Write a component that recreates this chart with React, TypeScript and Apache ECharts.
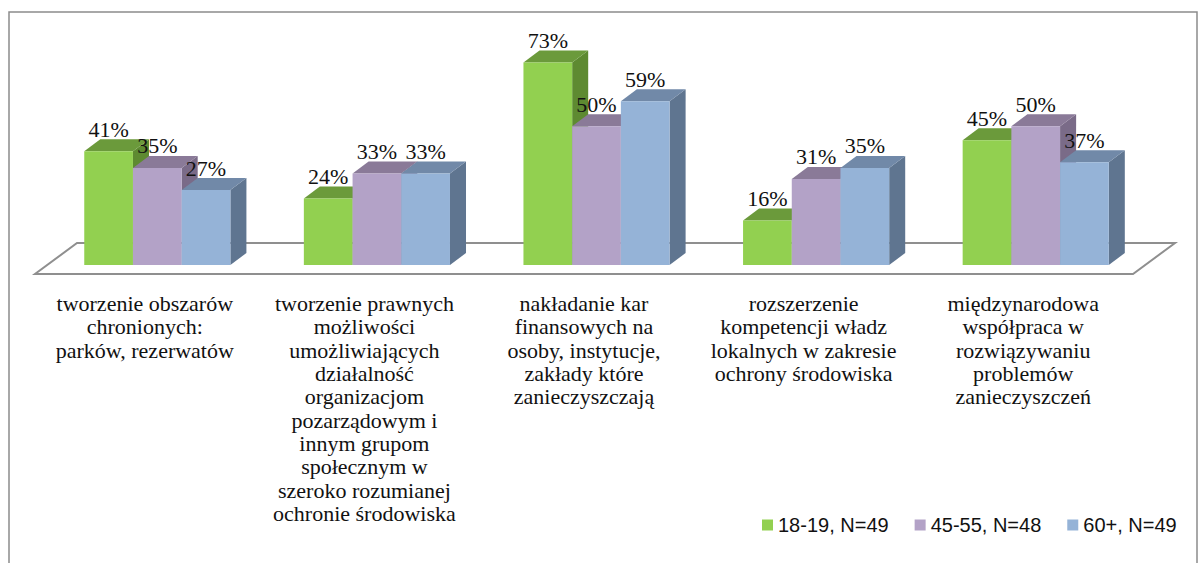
import React, { useEffect, useRef } from "react";
import * as echarts from "echarts";

const categories = [
  "tworzenie obszarów\nchronionych:\nparków, rezerwatów",
  "tworzenie prawnych\nmożliwości\numożliwiających\ndziałalność\norganizacjom\npozarządowym i\ninnym grupom\nspołecznym w\nszeroko rozumianej\nochronie środowiska",
  "nakładanie kar\nfinansowych na\nosoby, instytucje,\nzakłady które\nzanieczyszczają",
  "rozszerzenie\nkompetencji władz\nlokalnych w zakresie\nochrony środowiska",
  "międzynarodowa\nwspółpraca w\nrozwiązywaniu\nproblemów\nzanieczyszczeń",
];
const seriesNames = ["18-19, N=49", "45-55, N=48", "60+, N=49"];
const values1819 = [41, 24, 73, 16, 45];
const values4555 = [35, 33, 50, 31, 50];
const values60 = [27, 33, 59, 35, 37];
const allValues = [values1819, values4555, values60];

const frontColors = ["#92D050", "#B3A2C7", "#95B3D7"];
const topColors = ["#6B9A3B", "#8A7A98", "#7189A8"];
const sideColors = ["#5E8A31", "#7A6B88", "#5F7590"];

const SERIF = "Liberation Serif";
const SANS = "Liberation Sans";

export default function App() {
  const ref = useRef<HTMLDivElement>(null);
  useEffect(() => {
    if (!ref.current) return;
    const chart = echarts.init(ref.current, null, { renderer: "svg" });

    const makeBarSeries = (si: number) => ({
      type: "custom",
      name: seriesNames[si],
      itemStyle: { color: frontColors[si] },
      encode: { x: 0, y: 1 },
      data: allValues[si].map((v, i) => [i, v]),
      renderItem: (params: any, api: any) => {
        const idx = api.value(0);
        const v = api.value(1);
        const band = api.size([1, 0])[0];
        const base = api.coord([idx, 0]);
        const topP = api.coord([idx, v]);
        const shiftX = band * 0.057;
        const shiftY = 9;
        const bw = band * 0.2218;
        const dx = band * 0.073;
        const dy = 12;
        const x = base[0] + shiftX - 1.5 * bw + si * bw;
        const y0 = base[1] - shiftY;
        const yt = topP[1] - shiftY;
        return {
          type: "group",
          children: [
            {
              type: "polygon",
              shape: { points: [[x + bw, yt], [x + bw + dx, yt - dy], [x + bw + dx, y0 - dy], [x + bw, y0]] },
              style: { fill: sideColors[si] },
            },
            {
              type: "polygon",
              shape: { points: [[x, yt], [x + bw, yt], [x + bw + dx, yt - dy], [x + dx, yt - dy]] },
              style: { fill: topColors[si] },
            },
            {
              type: "rect",
              shape: { x: x, y: yt, width: bw, height: y0 - yt },
              style: { fill: frontColors[si] },
            },
            {
              type: "text",
              z2: 100,
              x: x + bw / 2,
              y: yt - dy + 1,
              style: {
                text: v + "%",
                align: "center",
                verticalAlign: "bottom",
                fontFamily: SERIF,
                fontSize: 22,
                fill: "#111",
              },
            },
          ],
        };
      },
    });

    chart.setOption({
      animation: false,
      backgroundColor: "#fff",
      graphic: [
        {
          type: "rect",
          shape: { x: 9, y: 12, width: 1188, height: 600 },
          style: { fill: "none", stroke: "#8c8c8c", lineWidth: 1.5 },
        },
      ],
      legend: {
        left: 757,
        top: 510,
        icon: "rect",
        itemWidth: 11,
        itemHeight: 11,
        itemGap: 26,
        data: seriesNames,
        textStyle: { fontFamily: SANS, fontSize: 20, color: "#111" },
      },
      grid: { left: 35, top: 52, width: 1098, height: 222 },
      xAxis: {
        type: "category",
        data: categories,
        axisLine: { show: false },
        axisTick: { show: false },
        axisLabel: {
          interval: 0,
          margin: 18,
          fontFamily: SERIF,
          fontSize: 22,
          lineHeight: 23.3,
          color: "#111",
          verticalAlign: "top",
        },
      },
      yAxis: { type: "value", min: 0, max: 80, show: false, splitLine: { show: false } },
      series: [
        {
          type: "custom",
          name: "floor",
          silent: true,
          z: 1,
          data: [[0, 0]],
          encode: { x: 0, y: 1 },
          renderItem: (params: any, api: any) => {
            const cs = params.coordSys;
            const band = api.size([1, 0])[0];
            const ddx = band * 0.1913;
            const ddy = 31;
            const yf = cs.y + cs.height;
            return {
              type: "polygon",
              shape: {
                points: [
                  [cs.x, yf],
                  [cs.x + cs.width, yf],
                  [cs.x + cs.width + ddx, yf - ddy],
                  [cs.x + ddx, yf - ddy],
                ],
              },
              style: { fill: "#fff", stroke: "#8f8f8f", lineWidth: 2 },
            };
          },
        },
        makeBarSeries(0),
        makeBarSeries(1),
        makeBarSeries(2),
      ],
    });
    return () => chart.dispose();
  }, []);
  return (
    <div
      ref={ref}
      style={{ position: "fixed", left: 0, top: 0, width: 1203, height: 563 }}
    />
  );
}
